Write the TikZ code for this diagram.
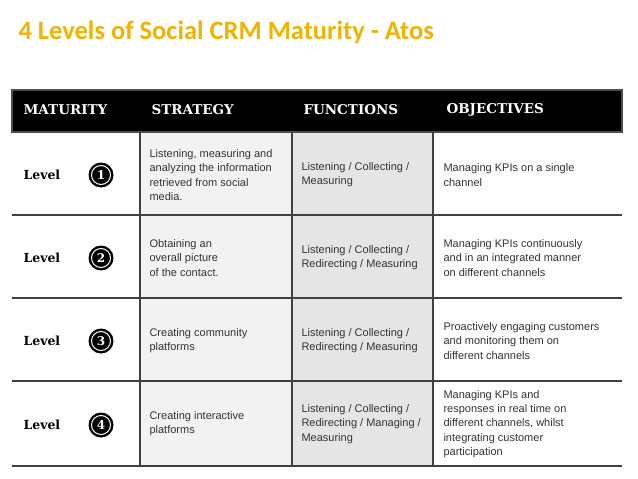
\documentclass[tikz,border=0pt]{standalone}
\usepackage{fontspec}
\setmainfont{Liberation Sans}
\newfontfamily\titlefont{Carlito}
\newfontfamily\headfont{DejaVu Serif}
\begin{document}
\begin{tikzpicture}[x=1pt,y=-1pt,
  cell/.style={anchor=west,align=left,font=\fontsize{11}{14.3}\selectfont,text=black!80},
  hd/.style={anchor=west,font=\headfont\bfseries\fontsize{13.5}{15}\selectfont,text=white},
  lvl/.style={anchor=west,font=\headfont\bfseries\fontsize{12.5}{14}\selectfont},
  rule/.style={line width=2.2pt,draw=black!75}]
\useasboundingbox (0,0) rectangle (638,479);
\fill[white] (0,0) rectangle (638,479);
\node[anchor=west,font=\titlefont\bfseries\fontsize{26.5}{28}\selectfont,text={rgb,255:red,240;green,180;blue,0}] (title) at (15,32) {4 Levels of Social CRM Maturity - Atos};
\fill[black!5] (140,132) rectangle (292,466);
\fill[black!10] (292,132) rectangle (433,466);
\fill[black] (12,90) rectangle (622,132);
\draw[line width=1.5pt,black!70] (12,90) rectangle (622,132);
\node[hd] (h1) at (20,110) {MATURITY};
\node[hd] (h2) at (148,110) {STRATEGY};
\node[hd] (h3) at (300,110) {FUNCTIONS};
\node[hd] (h4) at (443,110) {OBJECTIVES};
\foreach \y in {215,298,381,466} \draw[rule] (12,\y) -- (622,\y);
\foreach \x in {140,292,433} \draw[line width=1.8pt,black!75] (\x,132) -- (\x,466);
\foreach \n/\y in {1/175,2/258,3/341,4/425}{
  \node[lvl] (l\n) at (20,\y) {Level};
  \fill[black] (101,\y) circle (12.5);
  \draw[white,line width=1pt] (101,\y) circle (9.5);
  \node[text=white,font=\headfont\bfseries\fontsize{12}{13}\selectfont] (b\n) at (101,\y) {\n};
}
\node[cell] (s1) at (146,175) {Listening, measuring and\\analyzing the information\\retrieved from social\\media.};
\node[cell] (f1) at (298,175) {Listening / Collecting /\\Measuring};
\node[cell] (o1) at (440,175) {Managing KPIs on a single\\channel};
\node[cell] (s2) at (146,258) {Obtaining an\\overall picture\\of the contact.};
\node[cell] (f2) at (298,258) {Listening / Collecting /\\Redirecting / Measuring};
\node[cell] (o2) at (440,258) {Managing KPIs continuously\\and in an integrated manner\\on different channels};
\node[cell] (s3) at (146,341) {Creating community\\platforms};
\node[cell] (f3) at (298,341) {Listening / Collecting /\\Redirecting / Measuring};
\node[cell] (o3) at (440,341) {Proactively engaging customers\\and monitoring them on\\different channels};
\node[cell] (s4) at (146,424) {Creating interactive\\platforms};
\node[cell] (f4) at (298,424) {Listening / Collecting /\\Redirecting / Managing /\\Measuring};
\node[cell] (o4) at (440,424) {Managing KPIs and\\responses in real time on\\different channels, whilst\\integrating customer\\participation};
\end{tikzpicture}
\end{document}
